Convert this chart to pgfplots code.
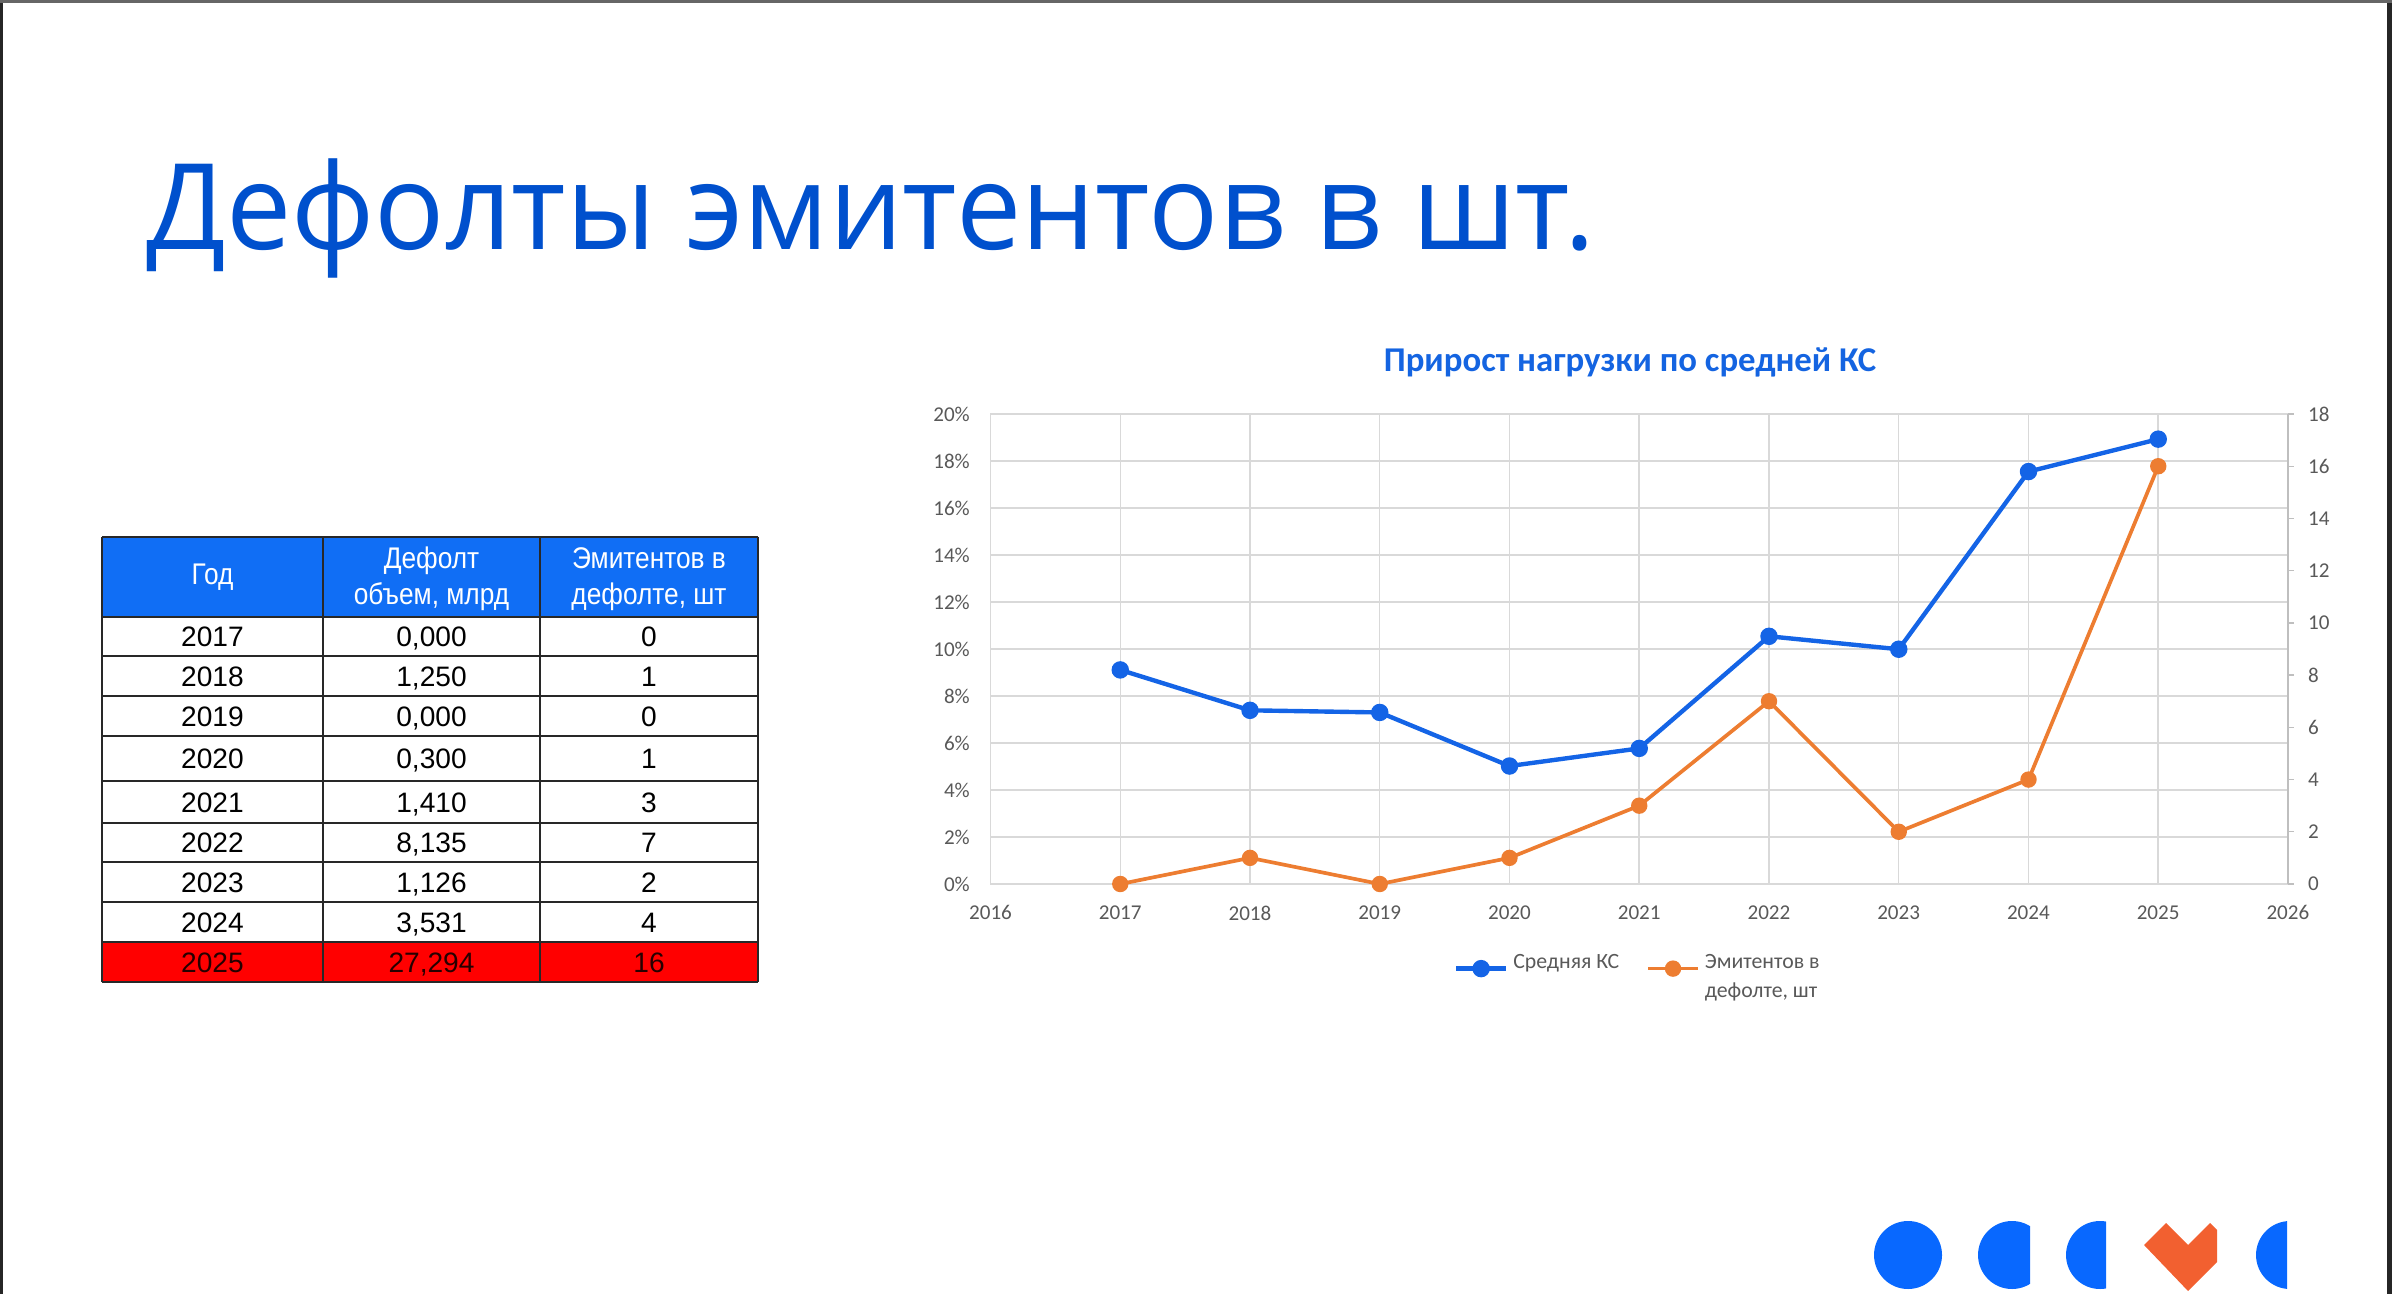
\documentclass[border=0pt]{standalone}
\usepackage{pgfplots}
\pgfplotsset{compat=1.18}
\usepackage{fontspec}
\setmainfont{Liberation Sans}
\newfontfamily\carlito{Carlito}
\newfontfamily\titlefont{Open Sans}
\definecolor{slidetitle}{RGB}{0,80,205}
\definecolor{charttitle}{RGB}{20,100,225}
\definecolor{blueline}{RGB}{20,100,230}
\definecolor{orangeline}{RGB}{237,125,49}
\definecolor{gridgray}{RGB}{217,217,217}
\definecolor{axisgray}{RGB}{191,191,191}
\definecolor{labelgray}{RGB}{89,89,89}
\definecolor{headblue}{RGB}{16,110,245}
\definecolor{decoblue}{RGB}{8,104,255}
\definecolor{decoorange}{RGB}{242,96,48}
\definecolor{tableline}{RGB}{40,40,40}
\begin{document}
\begin{tikzpicture}
\path[use as bounding box] (0,0) rectangle (239.2mm,-129.4mm);
\begin{scope}[x=0.1mm,y=-0.1mm]
% frame
\fill[black!85] (0,0) rectangle (3,1294);
\fill[black!85] (2387,0) rectangle (2392,1294);
\fill[black!60] (0,0) rectangle (2392,3);
% title
\node[anchor=base west, inner sep=0pt, text=slidetitle] at (146,250)
  {\scalebox{0.975}[1]{\titlefont\fontsize{34pt}{40pt}\selectfont Дефолты эмитентов в шт.}};
% chart title
\node[anchor=base, inner sep=0pt, text=charttitle] at (1630,372)
  {\carlito\bfseries\fontsize{9.9pt}{11pt}\selectfont Прирост нагрузки по средней КС};
% table
\fill[headblue] (102,537) rectangle (758,617);
\fill[red] (102,942) rectangle (758,982);
\foreach \yy in {537,617,656,696,736,781,823,862,902,942,982}
  \draw[tableline, line width=0.55pt] (102,\yy) -- (758,\yy);
\foreach \xx in {102,323,540,758}
  \draw[tableline, line width=0.55pt] (\xx,537) -- (\xx,982);
\begin{scope}[every node/.style={inner sep=0pt, text=white, font=\fontsize{8.5pt}{10.2pt}\selectfont}]
\node at (212.5,577) {\scalebox{0.88}[1]{Год}};
\node at (431.5,579) {\scalebox{0.88}[1]{\begin{tabular}{@{}c@{}}Дефолт\\объем, млрд\end{tabular}}};
\node at (649,579) {\scalebox{0.88}[1]{\begin{tabular}{@{}c@{}}Эмитентов в\\дефолте, шт\end{tabular}}};
\end{scope}
\begin{scope}[every node/.style={inner sep=0pt, anchor=base, text=black, font=\fontsize{8pt}{9.6pt}\selectfont}]
\node at (212.5,646.5) {2017}; \node at (431.5,646.5) {0,000}; \node at (649,646.5) {0};
\node at (212.5,686) {2018};   \node at (431.5,686) {1,250};   \node at (649,686) {1};
\node at (212.5,726) {2019};   \node at (431.5,726) {0,000};   \node at (649,726) {0};
\node at (212.5,768.5) {2020}; \node at (431.5,768.5) {0,300}; \node at (649,768.5) {1};
\node at (212.5,812) {2021};   \node at (431.5,812) {1,410};   \node at (649,812) {3};
\node at (212.5,852.5) {2022}; \node at (431.5,852.5) {8,135}; \node at (649,852.5) {7};
\node at (212.5,892) {2023};   \node at (431.5,892) {1,126};   \node at (649,892) {2};
\node at (212.5,932) {2024};   \node at (431.5,932) {3,531};   \node at (649,932) {4};
\node[text=black!85!red] at (212.5,972) {2025};
\node[text=black!85!red] at (431.5,972) {27,294};
\node[text=black!85!red] at (649,972) {16};
\end{scope}
% decorative shapes
\fill[decoblue] (1908,1255) circle[radius=3.4mm];
\begin{scope}
\clip (1960,1200) rectangle (2030,1294);
\fill[decoblue] (2012,1255) circle[radius=3.4mm];
\end{scope}
\begin{scope}
\clip (2050,1200) rectangle (2106,1294);
\fill[decoblue] (2100,1255) circle[radius=3.4mm];
\end{scope}
\begin{scope}
\clip (2240,1200) rectangle (2287,1294);
\fill[decoblue] (2290,1255) circle[radius=3.4mm];
\end{scope}
\fill[decoorange] (2144,1245) -- (2166,1223) -- (2188,1245) -- (2210,1223) -- (2217,1230) -- (2217,1262) -- (2188,1291) -- cycle;
\end{scope}

\begin{axis}[
  at={(99.05mm,-88.4mm)}, anchor=south west,
  width=129.75mm, height=47mm, scale only axis,
  xmin=2016, xmax=2026, ymin=0, ymax=20,
  xtick={2016,2017,...,2026}, ytick={0,2,...,20},
  grid=major, major grid style={draw=gridgray, line width=0.4pt},
  axis line style={draw=gridgray, line width=0.4pt},
  major tick length=0pt, tick style={draw=none},
  ticklabel style={font=\carlito\fontsize{6pt}{7pt}\selectfont, text=labelgray},
  /pgf/number format/assume math mode=true,
  /pgf/number format/1000 sep={},
  yticklabel={\pgfmathprintnumber{\tick}\%},
  yticklabel style={anchor=east, inner sep=0pt, xshift=-2mm},
  xticklabel style={anchor=north, inner sep=0pt, yshift=-2.1mm},
  clip=false,
]
\addplot[color=blueline, line width=1.25pt, mark=*, mark size=1.85pt, mark options={fill=blueline, draw=blueline}]
  coordinates {(2017,9.11) (2018,7.39) (2019,7.30) (2020,5.02) (2021,5.77) (2022,10.54) (2023,9.99) (2024,17.55) (2025,18.93)};
\end{axis}

\begin{axis}[
  at={(99.05mm,-88.4mm)}, anchor=south west,
  width=129.75mm, height=47mm, scale only axis,
  xmin=2016, xmax=2026, ymin=0, ymax=18,
  ytick={0,2,...,18},
  axis y line*=right, axis x line=none,
  axis line style={draw=axisgray, line width=0.4pt},
  ytick style={draw=axisgray, line width=0.4pt},
  major tick length=0.55mm, tick align=outside,
  ticklabel style={font=\carlito\fontsize{6pt}{7pt}\selectfont, text=labelgray},
  /pgf/number format/assume math mode=true,
  yticklabel style={anchor=west, inner sep=0pt, xshift=1.4mm},
  clip=false,
  legend columns=2,
  legend image code/.code={\draw[mark repeat=2, mark phase=2] plot coordinates {(0mm,0mm) (2.5mm,0mm) (5mm,0mm)};},
  legend style={at={(0.5,-0.125)}, anchor=north, draw=none, fill=none, inner sep=0pt,
    font=\carlito\fontsize{6.2pt}{8.2pt}\selectfont, text=labelgray,
    nodes={inner sep=0.5mm, anchor=base west},
    /tikz/every even column/.append style={column sep=2.2mm}},
]
\addlegendimage{color=blueline, line width=1.25pt, mark=*, mark size=1.85pt, mark options={fill=blueline, draw=blueline}}
\addlegendentry{Средняя КС}
\addplot[color=orangeline, line width=1.05pt, mark=*, mark size=1.8pt, mark options={fill=orangeline, draw=orangeline}]
  coordinates {(2017,0) (2018,1) (2019,0) (2020,1) (2021,3) (2022,7) (2023,2) (2024,4) (2025,16)};
\addlegendentry{\begin{tabular}[t]{@{}l@{}}Эмитентов в\\дефолте, шт\end{tabular}}
\end{axis}
\end{tikzpicture}
\end{document}
